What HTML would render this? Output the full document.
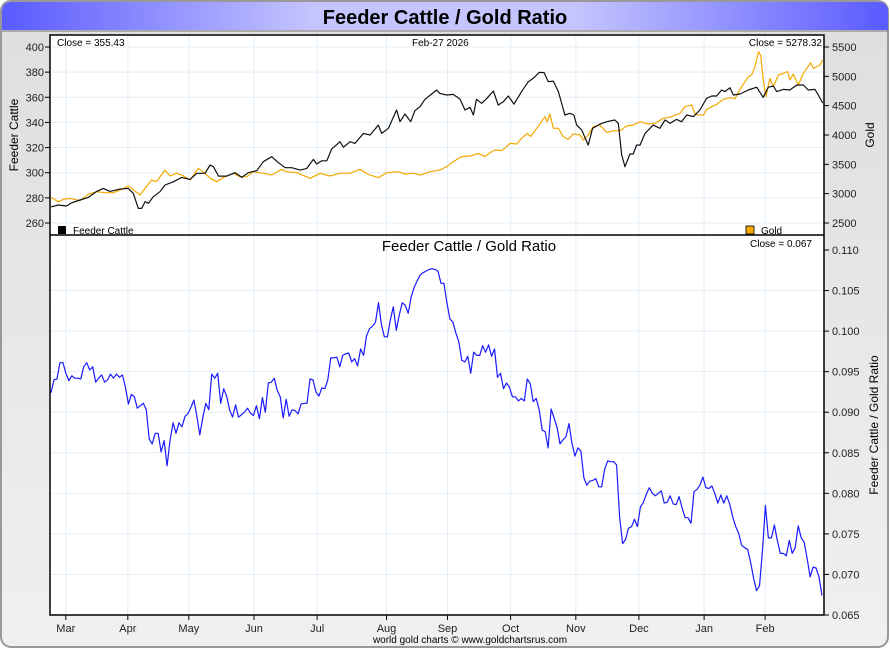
<!DOCTYPE html>
<html><head><meta charset="utf-8"><style>
body{margin:0;background:#fff;width:890px;height:650px;overflow:hidden;font-family:"Liberation Sans",sans-serif}
svg{display:block}
text{font-family:"Liberation Sans",sans-serif}
</style></head><body>
<svg id="c" width="890" height="650">
<defs>
<linearGradient id="tg" x1="0" x2="1"><stop offset="0" stop-color="#5a5aff"/><stop offset="0.35" stop-color="#c4c4ff"/><stop offset="0.65" stop-color="#c4c4ff"/><stop offset="1" stop-color="#5a5aff"/></linearGradient>
<linearGradient id="bg" x1="0" x2="0" y1="0" y2="1"><stop offset="0" stop-color="#dedede"/><stop offset="1" stop-color="#f0f0f0"/></linearGradient>
</defs>
<rect x="1" y="1" width="887" height="646" rx="10" fill="url(#bg)" stroke="#999" stroke-width="2"/>
<path d="M2 30 V12 Q2 2 12 2 H878 Q888 2 888 12 V30 Z" fill="url(#tg)"/>
<line x1="2" y1="31" x2="888" y2="31" stroke="#777" stroke-width="1"/>
<text x="445" y="24" text-anchor="middle" font-size="20" font-weight="bold" fill="#000">Feeder Cattle / Gold Ratio</text>
<rect x="50" y="35" width="774" height="580" fill="#fff"/>
<g id="grid"></g>
<g id="marks"></g>
<rect x="50" y="35" width="774" height="580" fill="none" stroke="#000" stroke-width="1.5"/>
<line x1="50" y1="235" x2="824" y2="235" stroke="#000" stroke-width="1.5"/>
<g id="axes" font-size="11" fill="#222"></g>
<text x="57" y="46" font-size="10">Close = 355.43</text>
<text x="412" y="46" font-size="10">Feb-27  2026</text>
<text x="822" y="46" font-size="10" text-anchor="end">Close = 5278.32</text>
<rect x="58" y="226" width="8" height="8" fill="#000"/>
<text x="73" y="234" font-size="10">Feeder Cattle</text>
<rect x="746" y="226" width="8" height="8" fill="#f5a800" stroke="#000" stroke-width="0.8"/>
<text x="761" y="234" font-size="10">Gold</text>
<text x="469" y="251" font-size="15" text-anchor="middle">Feeder Cattle  /  Gold Ratio</text>
<text x="812" y="247" font-size="10" text-anchor="end">Close = 0.067</text>
<text transform="translate(18,135) rotate(-90)" font-size="12" text-anchor="middle">Feeder Cattle</text>
<text transform="translate(874,135) rotate(-90)" font-size="12" text-anchor="middle">Gold</text>
<text transform="translate(878,425) rotate(-90)" font-size="12" text-anchor="middle">Feeder Cattle / Gold Ratio</text>
<text x="470" y="643" font-size="10" text-anchor="middle">world gold charts © www.goldchartsrus.com</text>
</svg>
<script>
const months=["Mar","Apr","May","Jun","Jul","Aug","Sep","Oct","Nov","Dec","Jan","Feb"];
const monthDay=[7.5,37,66,97,127,160,189,219,250,280,311,340];
const feederTicks=[260,280,300,320,340,360,380,400];
const goldTicks=[2500,3000,3500,4000,4500,5000,5500];
const ratioTicks=[0.065,0.070,0.075,0.080,0.085,0.090,0.095,0.100,0.105,0.110];
const feederDays=[0.5,3.9,7.9,10.3,14.3,18.2,22.2,25.3,28.5,33.3,37.2,39.6,42.0,43.6,45.2,46.8,49.1,52.3,54.7,58.6,62.6,66.6,69.8,73.7,76.1,77.7,80.1,84.0,88.0,91.2,94.3,98.3,101.4,105.4,108.6,111.8,114.9,118.9,122.1,125.2,126.8,129.2,131.6,133.9,137.9,139.5,142.7,145.0,149.0,152.2,156.1,157.7,160.9,164.8,166.4,168.8,171.5,173.5,175.9,178.3,181.5,183.8,185.4,188.6,191.7,194.9,197.3,199.7,201.3,202.8,205.2,207.6,210.8,213.1,215.5,217.9,220.6,224.2,227.4,229.8,232.6,234.9,236.9,239.3,241.7,244.8,247.2,249.1,250.4,252.8,255.9,258.0,261.5,264.7,268.6,270.2,271.8,273.4,275.7,277.3,278.9,280.5,282.9,286.8,290.0,292.4,294.8,297.9,300.3,302.7,305.9,309.0,312.2,314.6,317.0,319.3,320.9,323.3,324.9,328.1,332.0,336.0,339.1,341.5,343.9,345.5,348.7,351.8,355.0,358.2,360.5,363.7,365.3,367.4];
const feeder=[272.9,274.3,273.5,276.1,278.3,280.4,285.1,287.5,285.1,287.0,287.5,283.6,271.6,271.6,277.0,275.6,280.9,284.9,290.2,292.8,296.3,294.7,299.5,299.5,306.1,304.8,297.3,297.3,300.0,296.3,300.0,301.6,308.8,312.7,308.0,304.0,304.0,302.1,303.4,310.6,306.9,309.5,309.5,318.8,324.7,320.2,324.7,323.3,331.3,330.0,337.9,331.3,335.3,349.9,340.6,346.7,340.6,349.3,352.5,358.4,362.6,365.8,363.1,361.8,362.3,358.6,349.9,352.0,345.9,358.4,355.2,358.9,365.0,353.8,356.5,361.0,354.6,364.5,372.4,375.1,379.8,379.6,372.4,372.9,364.5,345.9,347.3,345.9,337.9,334.0,322.0,335.3,338.7,340.6,341.9,339.3,314.1,304.8,314.9,314.9,322.0,322.0,331.3,337.9,335.3,341.9,339.3,342.4,340.6,345.9,344.6,349.9,359.2,361.0,361.0,365.8,364.5,367.6,361.8,362.6,365.8,368.0,359.9,368.0,369.0,364.5,366.3,365.8,369.8,369.8,365.8,366.3,361.8,355.4];
const goldDays=[0.5,3.9,6.3,9.5,14.3,18.2,22.2,26.2,30.1,34.1,37.2,38.8,42.8,45.2,48.3,50.7,54.7,57.1,60.2,62.6,66.6,70.5,73.7,76.1,79.2,83.2,87.2,90.3,93.5,96.7,101.4,105.4,110.1,112.5,117.3,123.6,128.4,133.1,137.9,142.6,147.4,151.4,156.1,160.1,165.6,168.8,172.8,175.9,180.7,185.4,188.6,191.7,195.7,199.7,203.6,206.8,209.2,211.6,214.7,217.1,218.7,221.9,224.2,226.9,228.5,231.4,233.7,235.3,236.4,237.7,239.3,241.7,244.0,246.4,248.8,252.0,253.6,255.9,258.3,261.5,264.7,267.8,271.0,274.2,277.3,280.5,284.5,287.6,291.6,295.6,299.5,301.9,305.1,306.7,310.6,312.2,314.6,317.0,320.1,323.3,325.7,328.8,332.0,333.6,335.2,336.8,337.9,339.1,340.4,342.3,343.9,346.3,348.7,350.7,351.8,353.4,355.8,358.2,361.7,362.9,366.1,367.4];
const gold=[2937,2863,2903,2920,2881,2989,3034,3017,3017,3074,3131,3091,2977,3091,3233,3204,3403,3301,3347,3318,3233,3432,3347,3262,3204,3290,3347,3290,3290,3375,3347,3318,3415,3375,3358,3262,3347,3301,3347,3347,3415,3329,3273,3358,3375,3335,3347,3318,3375,3403,3460,3545,3631,3642,3687,3631,3699,3744,3733,3801,3858,3847,3943,4028,3972,4114,4227,4312,4227,4358,4114,4114,3972,3926,4017,4000,3915,4000,4142,4170,4045,4074,4074,4153,4170,4227,4187,4199,4284,4312,4369,4483,4511,4352,4335,4437,4483,4522,4608,4636,4619,4824,4994,5023,5165,5420,5358,4937,4653,4965,4824,5023,5051,5080,4937,5040,4852,5051,5233,5136,5193,5278];
const ratio=[0.0924,0.0940,0.0941,0.0961,0.0961,0.0948,0.0939,0.0945,0.0942,0.0942,0.0941,0.0956,0.0961,0.0952,0.0956,0.0937,0.0942,0.0946,0.0937,0.0940,0.0947,0.0942,0.0947,0.0943,0.0946,0.0931,0.0910,0.0922,0.0919,0.0905,0.0908,0.0911,0.0903,0.0867,0.0861,0.0874,0.0874,0.0851,0.0865,0.0834,0.0866,0.0887,0.0874,0.0887,0.0882,0.0895,0.0898,0.0906,0.0915,0.0895,0.0872,0.0893,0.0911,0.0903,0.0947,0.0942,0.0948,0.0911,0.0929,0.0920,0.0903,0.0894,0.0909,0.0894,0.0897,0.0900,0.0905,0.0899,0.0896,0.0908,0.0892,0.0918,0.0900,0.0936,0.0937,0.0942,0.0927,0.0919,0.0893,0.0916,0.0895,0.0903,0.0902,0.0898,0.0910,0.0911,0.0911,0.0941,0.0940,0.0925,0.0920,0.0930,0.0929,0.0940,0.0967,0.0967,0.0968,0.0956,0.0970,0.0972,0.0973,0.0962,0.0966,0.0957,0.0978,0.0970,0.0994,0.1003,0.1006,0.1011,0.1035,0.1008,0.0993,0.0993,0.1014,0.1030,0.1001,0.1020,0.1035,0.1032,0.1022,0.1042,0.1054,0.1062,0.1069,0.1072,0.1074,0.1076,0.1077,0.1076,0.1074,0.1059,0.1059,0.1035,0.1015,0.1011,0.0998,0.0987,0.0964,0.0962,0.0969,0.0948,0.0974,0.0970,0.0970,0.0982,0.0974,0.0983,0.0969,0.0978,0.0943,0.0948,0.0929,0.0936,0.0931,0.0919,0.0919,0.0914,0.0917,0.0914,0.0941,0.0935,0.0913,0.0917,0.0903,0.0878,0.0876,0.0856,0.0904,0.0893,0.0881,0.0861,0.0866,0.0870,0.0886,0.0862,0.0846,0.0856,0.0852,0.0819,0.0810,0.0815,0.0816,0.0818,0.0808,0.0808,0.0830,0.0840,0.0839,0.0839,0.0835,0.0771,0.0738,0.0743,0.0757,0.0759,0.0768,0.0759,0.0783,0.0789,0.0799,0.0807,0.0800,0.0797,0.0800,0.0803,0.0788,0.0789,0.0797,0.0787,0.0786,0.0796,0.0782,0.0770,0.0770,0.0763,0.0802,0.0805,0.0810,0.0820,0.0807,0.0806,0.0809,0.0800,0.0788,0.0798,0.0788,0.0797,0.0787,0.0771,0.0759,0.0751,0.0736,0.0733,0.0731,0.0715,0.0696,0.0680,0.0686,0.0730,0.0785,0.0745,0.0745,0.0761,0.0742,0.0726,0.0726,0.0723,0.0742,0.0726,0.0733,0.0760,0.0745,0.0740,0.0720,0.0697,0.0709,0.0708,0.0697,0.0674];

const NS="http://www.w3.org/2000/svg";
const X0=51,X1=822;
const dayX=d=>50+(d/368)*774;
const fy=v=>223-(v-260)*176/140;
const gy=v=>223-(v-2500)*176/3000;
const ry=v=>615-(v-0.065)*365/0.045;
const idxX=(i,n)=>X0+i*(X1-X0)/(n-1);
function el(tag,attrs,parent){const e=document.createElementNS(NS,tag);for(const k in attrs)e.setAttribute(k,attrs[k]);parent.appendChild(e);return e;}
const grid=document.getElementById('grid'),marks=document.getElementById('marks'),axes=document.getElementById('axes');
monthDay.forEach((d,i)=>{
  const x=dayX(d);
  const g=el('line',{x1:x,y1:35,x2:x,y2:615,stroke:'#e3eef7','stroke-width':1},grid);
  
  
  el('line',{x1:x,y1:615,x2:x,y2:620,stroke:'#000'},axes);
  const t=el('text',{x:x,y:632,'text-anchor':'middle'},axes);t.textContent=months[i];
  
  
});
feederTicks.forEach(v=>{
  const y=fy(v);
  el('line',{x1:50,y1:y,x2:824,y2:y,stroke:'#e3eef7'},grid);
  el('line',{x1:45,y1:y,x2:50,y2:y,stroke:'#000'},axes);
  const t=el('text',{x:44,y:y+4,'text-anchor':'end'},axes);t.textContent=v;
  
  
});
goldTicks.forEach(v=>{
  const y=gy(v);
  el('line',{x1:824,y1:y,x2:829,y2:y,stroke:'#000'},axes);
  const t=el('text',{x:832,y:y+4},axes);t.textContent=v;
  
  
});
ratioTicks.forEach(v=>{
  const y=ry(v);
  if(v<0.1099)el('line',{x1:50,y1:y,x2:824,y2:y,stroke:'#e3eef7'},grid);
  el('line',{x1:824,y1:y,x2:829,y2:y,stroke:'#000'},axes);
  const t=el('text',{x:832,y:y+4},axes);t.textContent=v.toFixed(3);
  
  
});
function path(pts,color,name){
  const d=pts.map((p,i)=>(i?'L':'M')+p[0].toFixed(1)+' '+p[1].toFixed(1)).join(' ');
  const p=el('path',{d:d,fill:'none',stroke:color,'stroke-width':1.2,'stroke-linejoin':'round'},marks);
  
  
}
path(gold.map((v,i)=>[dayX(goldDays[i]),gy(v)]),'#f5a800','gold-line');
path(feeder.map((v,i)=>[dayX(feederDays[i]),fy(v)]),'#111','feeder-cattle-line');
path(ratio.map((v,i)=>[idxX(i,ratio.length),ry(v)]),'#1a1aff','ratio-line');
</script>
</body></html>
